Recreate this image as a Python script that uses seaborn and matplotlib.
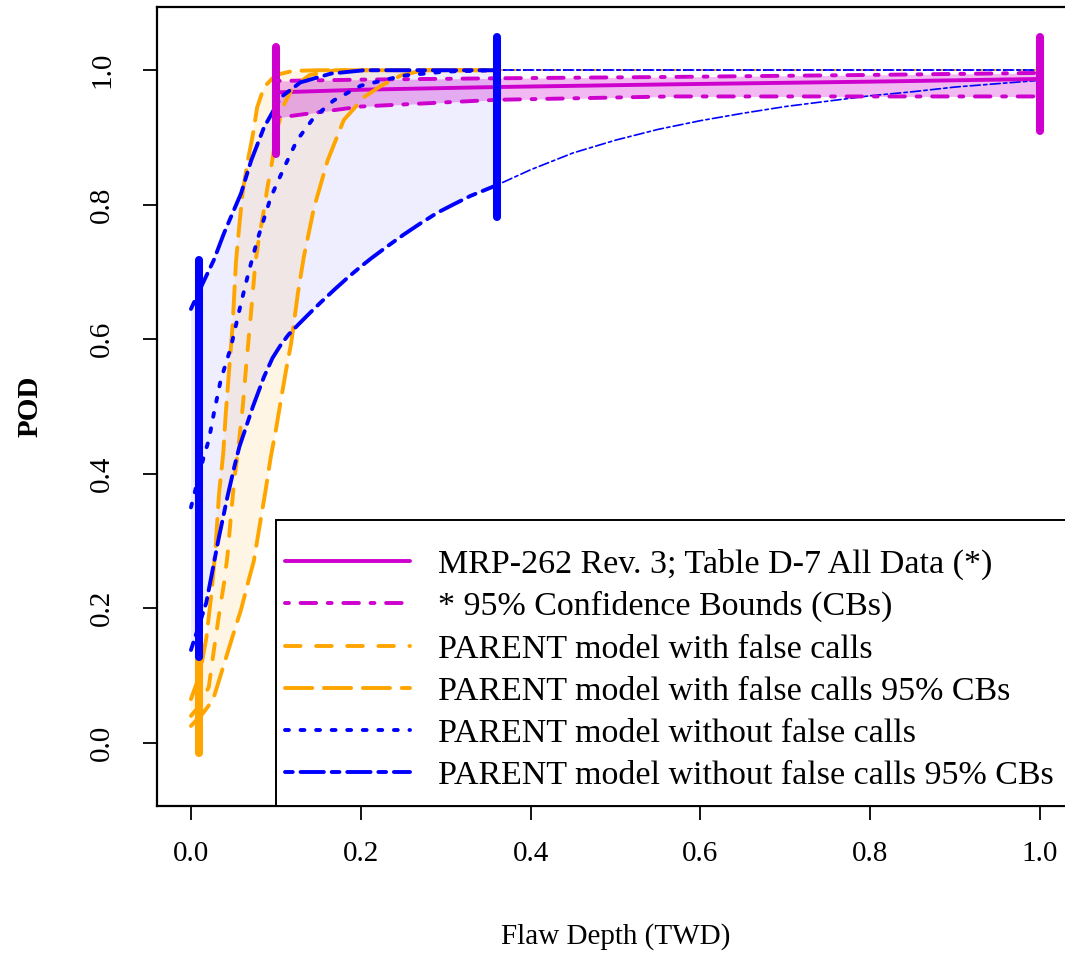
import numpy as np
import matplotlib
matplotlib.use("Agg")
import matplotlib.pyplot as plt
from matplotlib.patches import Rectangle
import seaborn as sns

# ---------------- data ----------------
# MRP-262 Rev. 3; Table D-7 All Data
mrp_x = [0.1, 0.2, 0.36, 0.565, 0.8, 1.0]
mrp_pod = [0.967, 0.971, 0.975, 0.979, 0.983, 0.987]
mrp_up = [0.984, 0.986, 0.988, 0.990, 0.993, 0.996]
mrp_lo = [0.929, 0.946, 0.956, 0.961, 0.961, 0.961]

# PARENT model with false calls (centre)
fc_x = [0.0, 0.01, 0.021, 0.027, 0.033, 0.039, 0.043, 0.047, 0.051, 0.055, 0.061,
        0.065, 0.071, 0.076, 0.080, 0.085, 0.090, 0.095, 0.102, 0.11, 0.12, 0.14,
        0.17, 0.36]
fc_pod = [0.04, 0.055, 0.083, 0.138, 0.19, 0.238, 0.278, 0.336, 0.391, 0.43, 0.50,
          0.56, 0.643, 0.715, 0.75, 0.785, 0.825, 0.86, 0.915, 0.95, 0.975, 0.993,
          1.0, 1.0]
# PARENT model with false calls 95% CBs
fc_up_x = [0.0, 0.01, 0.018, 0.024, 0.029, 0.033, 0.038, 0.041, 0.045, 0.049, 0.053,
           0.057, 0.061, 0.067, 0.073, 0.078, 0.086, 0.1, 0.12, 0.15, 0.2, 0.36]
fc_up_pod = [0.065, 0.10, 0.155, 0.22, 0.29, 0.37, 0.43, 0.49, 0.555, 0.62, 0.715,
             0.77, 0.82, 0.866, 0.905, 0.945, 0.975, 0.993, 0.999, 1.0, 1.0, 1.0]
fc_lo_x = [0.0, 0.013, 0.026, 0.038, 0.049, 0.059, 0.068, 0.074, 0.080, 0.088, 0.094,
           0.1, 0.106, 0.112, 0.118, 0.126, 0.133, 0.145, 0.161, 0.18, 0.204, 0.224,
           0.247, 0.27, 0.3, 0.36]
fc_lo_pod = [0.025, 0.042, 0.064, 0.113, 0.158, 0.198, 0.242, 0.27, 0.316, 0.376,
             0.425, 0.465, 0.51, 0.554, 0.594, 0.669, 0.723, 0.796, 0.866, 0.926,
             0.96, 0.977, 0.992, 0.999, 1.0, 1.0]

# PARENT model without false calls (centre)
nf_x = [0.0, 0.008, 0.015, 0.021, 0.027, 0.035, 0.047, 0.059, 0.068, 0.078, 0.094,
        0.11, 0.125, 0.145, 0.168, 0.2, 0.25, 0.3, 0.36]
nf_pod = [0.35, 0.39, 0.425, 0.45, 0.49, 0.539, 0.588, 0.654, 0.70, 0.747, 0.811,
          0.856, 0.896, 0.93, 0.955, 0.977, 0.992, 0.998, 1.0]
# PARENT model without false calls 95% CBs
nf_up_x = [0.0, 0.012, 0.027, 0.039, 0.059, 0.071, 0.086, 0.106, 0.129, 0.165, 0.204,
           0.26, 0.36]
nf_up_pod = [0.645, 0.678, 0.718, 0.758, 0.817, 0.866, 0.915, 0.96, 0.982, 0.995,
             1.0, 1.0, 1.0]
nf_lo_x = [0.0, 0.018, 0.027, 0.033, 0.043, 0.051, 0.057, 0.073, 0.086, 0.096, 0.106,
           0.115, 0.125, 0.14, 0.153, 0.17, 0.185, 0.2, 0.212, 0.23, 0.251, 0.27,
           0.29, 0.31, 0.329, 0.36]
nf_lo_pod = [0.138, 0.208, 0.267, 0.306, 0.366, 0.41, 0.44, 0.50, 0.544, 0.572,
             0.592, 0.607, 0.620, 0.639, 0.655, 0.675, 0.692, 0.708, 0.720, 0.737,
             0.756, 0.772, 0.788, 0.801, 0.813, 0.829]
# continuation beyond 0.36 (thin lines)
tail_x = [0.36, 1.0]
tail_pod = [1.0, 1.0]
nf_lo_tail_x = [0.36, 0.40, 0.45, 0.50, 0.55, 0.60, 0.65, 0.70, 0.75, 0.80, 0.85,
                0.90, 0.95, 1.0]
nf_lo_tail_pod = [0.829, 0.852, 0.877, 0.896, 0.912, 0.925, 0.936, 0.946, 0.954,
                  0.962, 0.968, 0.975, 0.980, 0.985]

# vertical range bars
bar_x = [0.01, 0.01, 0.1, 0.36, 1.0]
bar_lo = [-0.015, 0.128, 0.875, 0.782, 0.910]
bar_hi = [0.13, 0.718, 1.035, 1.049, 1.049]
bar_series = ["orange", "blue", "magenta", "blue", "magenta"]

x_ticks = [0.0, 0.2, 0.4, 0.6, 0.8, 1.0]
x_ticklabels = ["0.0", "0.2", "0.4", "0.6", "0.8", "1.0"]
y_ticks = [0.0, 0.2, 0.4, 0.6, 0.8, 1.0]
y_ticklabels = ["0.0", "0.2", "0.4", "0.6", "0.8", "1.0"]

legend_labels = [
    "MRP-262 Rev. 3; Table D-7 All Data (*)",
    "* 95% Confidence Bounds (CBs)",
    "PARENT model with false calls",
    "PARENT model with false calls 95% CBs",
    "PARENT model without false calls",
    "PARENT model without false calls 95% CBs",
]

# ---------------- style ----------------
sns.set_style("ticks")
plt.rcParams["font.family"] = ["Liberation Serif", "DejaVu Serif"]
plt.rcParams.update({
    "axes.edgecolor": "black", "xtick.color": "black", "ytick.color": "black",
    "text.color": "black", "axes.labelcolor": "black",
})

MAG = "#CD00CD"
ORA = "#FFA500"
BLU = "#0000FF"
colors = {"magenta": MAG, "orange": ORA, "blue": BLU}

LS_SOLID = "-"
LS_DOTDASH = (0, (1, 3, 4, 3))
LS_DASHED = (0, (4, 4))
LS_LONGDASH = (0, (7, 3))
LS_DOTTED = (0, (1, 3))
LS_TWODASH = (0, (2, 2, 6, 2))
LW = 2.8
LW_THIN = 1.2

fig = plt.figure(figsize=(10.65, 9.56), dpi=100)
ax = fig.add_axes([157 / 1065, 150 / 956, 917 / 1065, 799 / 956])


def curve(x, y, color, ls, lw, z=3):
    sns.lineplot(x=x, y=y, color=color, linestyle=ls, linewidth=lw,
                 dash_capstyle="round", solid_capstyle="round",
                 estimator=None, sort=False, legend=False, ax=ax, zorder=z)
    return ax.lines[-1]


# fills
ax.fill(np.concatenate([nf_up_x, nf_lo_x[::-1]]),
        np.concatenate([nf_up_pod, nf_lo_pod[::-1]]),
        color=BLU, alpha=0.065, lw=0, zorder=1)
ax.fill(np.concatenate([fc_up_x, fc_lo_x[::-1]]),
        np.concatenate([fc_up_pod, fc_lo_pod[::-1]]),
        color=ORA, alpha=0.10, lw=0, zorder=1)
ax.fill_between(mrp_x, mrp_lo, mrp_up, color=MAG, alpha=0.28, lw=0, zorder=1)

# thin tails
curve(tail_x, tail_pod, ORA, LS_DASHED, LW_THIN, z=2)
curve(tail_x, tail_pod, BLU, LS_DOTTED, LW_THIN, z=2)
curve(tail_x, tail_pod, BLU, LS_TWODASH, LW_THIN, z=2)
curve(nf_lo_tail_x, nf_lo_tail_pod, BLU, LS_TWODASH, LW_THIN, z=2)

# main curves
h_mrp = curve(mrp_x, mrp_pod, MAG, LS_SOLID, LW)
h_mrp_cb = curve(mrp_x, mrp_up, MAG, LS_DOTDASH, LW)
curve(mrp_x, mrp_lo, MAG, LS_DOTDASH, LW)
h_fc = curve(fc_x, fc_pod, ORA, LS_DASHED, LW)
h_fc_cb = curve(fc_up_x, fc_up_pod, ORA, LS_LONGDASH, LW)
curve(fc_lo_x, fc_lo_pod, ORA, LS_LONGDASH, LW)
h_nf = curve(nf_x, nf_pod, BLU, LS_DOTTED, LW)
h_nf_cb = curve(nf_up_x, nf_up_pod, BLU, LS_TWODASH, LW)
curve(nf_lo_x, nf_lo_pod, BLU, LS_TWODASH, LW)

# vertical bars
for bx, lo, hi, s in zip(bar_x, bar_lo, bar_hi, bar_series):
    ax.plot([bx, bx], [lo, hi], color=colors[s], lw=5.8,
            solid_capstyle="round", zorder=4)

# axes
ax.set_xlim(-0.04, 1.04)
ax.set_ylim(-0.094, 1.094)
ax.set_xticks(x_ticks)
ax.set_xticklabels(x_ticklabels)
ax.set_yticks(y_ticks)
ax.set_yticklabels(y_ticklabels, rotation=90, va="center")
ax.tick_params(axis="both", direction="out", length=10, width=1.3,
               labelsize=21)
ax.tick_params(axis="x", pad=15)
ax.tick_params(axis="y", pad=20)
for sp in ax.spines.values():
    sp.set_visible(True)
    sp.set_linewidth(1.6)
    sp.set_color("black")

ax.set_xlabel("Flaw Depth (TWD)", fontsize=21)
ax.xaxis.set_label_coords(0.5, -0.1635)
ax.xaxis.label.set_va("center")
ax.set_ylabel("POD", fontsize=21, fontweight="bold")
ax.yaxis.set_label_coords(-0.1385, 0.5)
ax.yaxis.label.set_va("center")

# legend frame + legend
ax.add_patch(Rectangle((0.1298, 0.0), 1 - 0.1298, 0.358, transform=ax.transAxes,
                       facecolor="white", edgecolor="black", lw=1.4,
                       clip_on=False, zorder=5))
leg = ax.legend([h_mrp, h_mrp_cb, h_fc, h_fc_cb, h_nf, h_nf_cb], legend_labels,
                loc="upper left", bbox_to_anchor=(0.1396, 0.322),
                frameon=False, borderpad=0, borderaxespad=0,
                handlelength=3.67, handletextpad=0.82, labelspacing=0.33,
                fontsize=24.5)
leg.set_zorder(6)

fig.savefig("out.png", dpi=100)
